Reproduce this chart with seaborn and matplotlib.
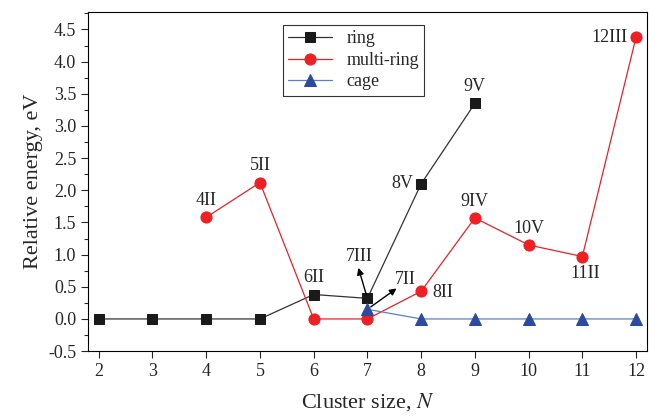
import numpy as np
import pandas as pd
import matplotlib
matplotlib.use("Agg")
import matplotlib.pyplot as plt
import seaborn as sns

# cluster sizes and relative energies (eV)
ring_n = [2, 3, 4, 5, 6, 7, 8, 9]
ring_e = [0.0, 0.0, 0.0, 0.0, 0.38, 0.32, 2.10, 3.35]
multi_n = [4, 5, 6, 7, 8, 9, 10, 11, 12]
multi_e = [1.58, 2.12, 0.0, 0.0, 0.43, 1.57, 1.15, 0.97, 4.38]
cage_n = [7, 8, 9, 10, 11, 12]
cage_e = [0.15, 0.0, 0.0, 0.0, 0.0, 0.0]

# point labels: (text, x, y, offset in points, ha, va)
labels = [
    ("4II", 4, 1.58, (0, 6), "center", "bottom"),
    ("5II", 5, 2.12, (0, 6), "center", "bottom"),
    ("6II", 6, 0.38, (0, 6), "center", "bottom"),
    ("8II", 8, 0.43, (8, -1), "left", "center"),
    ("8V", 8, 2.10, (-6, 0), "right", "center"),
    ("9V", 9, 3.35, (0, 6), "center", "bottom"),
    ("9IV", 9, 1.57, (0, 6), "center", "bottom"),
    ("10V", 10, 1.15, (0, 6), "center", "bottom"),
    ("11II", 11, 0.97, (2, -6), "center", "top"),
    ("12III", 12, 4.38, (-6, 0), "right", "center"),
]

sns.set_style("ticks")
plt.rcParams["font.family"] = ["Liberation Serif", "DejaVu Serif"]
plt.rcParams["mathtext.fontset"] = "stix"

fig = plt.figure(figsize=(6.49, 4.17), dpi=100)
ax = fig.add_axes([0.1356, 0.158, 0.861, 0.813])

df_ring = pd.DataFrame({"N": ring_n, "E": ring_e})
df_multi = pd.DataFrame({"N": multi_n, "E": multi_e})
df_cage = pd.DataFrame({"N": cage_n, "E": cage_e})

sns.lineplot(data=df_ring, x="N", y="E", ax=ax, color="#333333", lw=0.9,
             marker="s", markersize=6.5, markerfacecolor="#1a1a1a",
             markeredgecolor="#1a1a1a", label="ring")
sns.lineplot(data=df_multi, x="N", y="E", ax=ax, color="#ee2024", lw=0.9,
             marker="o", markersize=8, markerfacecolor="#ee2024",
             markeredgecolor="#ee2024", label="multi-ring")
sns.lineplot(data=df_cage, x="N", y="E", ax=ax, color="#5a7fc8", lw=0.9,
             marker="^", markersize=8, markerfacecolor="#2b4aa0",
             markeredgecolor="#2b4aa0", label="cage")

for txt, x, y, off, ha, va in labels:
    ax.annotate(txt, xy=(x, y), xytext=off, textcoords="offset points",
                ha=ha, va=va, fontsize=13)

# arrows at N = 7, pointing away from the markers
arrow = dict(arrowstyle="<|-", color="black", lw=1, mutation_scale=10,
             shrinkA=0, shrinkB=3)
ax.annotate("7III", xy=(7, 0.32), xytext=(-6, 24), textcoords="offset points",
            ha="center", va="bottom", fontsize=13)
ax.annotate("", xy=(7, 0.32), xytext=(-6.5, 22), textcoords="offset points",
            arrowprops=arrow)
ax.annotate("7II", xy=(7, 0.15), xytext=(20, 15), textcoords="offset points",
            ha="left", va="bottom", fontsize=13)
ax.annotate("", xy=(7, 0.15), xytext=(21, 15), textcoords="offset points",
            arrowprops=arrow)

ax.set_xlim(1.8, 12.2)
ax.set_ylim(-0.5, 4.77)
ax.set_xticks(range(2, 13))
yt = np.arange(-0.5, 4.51, 0.5)
ax.set_yticks(yt)
ax.set_yticklabels([f"{v:.1f}" for v in yt])
ax.set_yticks(np.arange(-0.25, 4.76, 0.5), minor=True)
ax.tick_params(axis="both", which="major", labelsize=13, direction="out", length=5, width=0.8)
ax.tick_params(axis="y", which="minor", direction="out", length=3, width=0.8)
for s in ax.spines.values():
    s.set_visible(True)
    s.set_linewidth(0.8)
    s.set_color("black")

ax.set_xlabel("Cluster size, $\\mathit{N}$", fontsize=16, labelpad=8)
ax.set_ylabel("Relative energy, eV", fontsize=16)

leg = ax.legend(loc="upper left", bbox_to_anchor=(0.349, 0.962), fontsize=13,
                frameon=True, fancybox=False, edgecolor="black",
                handlelength=2.4, borderpad=0.3, labelspacing=0.25,
                borderaxespad=0)
leg.get_frame().set_linewidth(0.8)

fig.savefig("out.png", dpi=100)
